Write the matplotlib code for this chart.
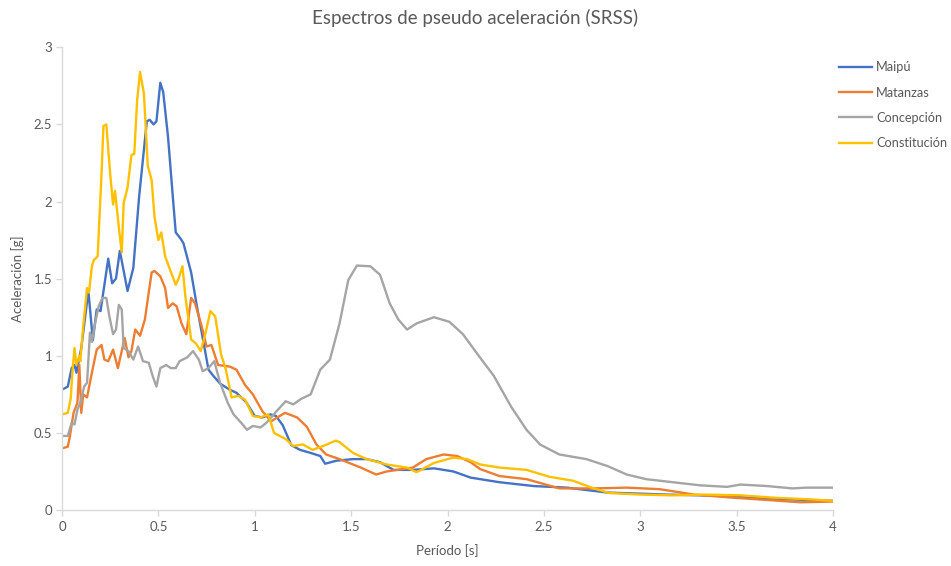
import matplotlib
matplotlib.use("Agg")
import matplotlib.pyplot as plt
from matplotlib.ticker import FuncFormatter

plt.rcParams['font.family'] = ['Lato', 'DejaVu Sans']

TITLE = 'Espectros de pseudo aceleración (SRSS)'

# Maipú
t_maipu = [0, 0.03, 0.05, 0.065, 0.075, 0.1, 0.137, 0.16, 0.18, 0.2, 0.24, 0.26, 0.28, 0.30,
           0.32, 0.34, 0.37, 0.40, 0.44, 0.455, 0.475, 0.49, 0.51, 0.525, 0.55, 0.575, 0.59,
           0.615, 0.63, 0.67, 0.70, 0.725, 0.76, 0.785, 0.82, 0.87, 0.905, 0.955, 1.0, 1.04,
           1.08, 1.11, 1.145, 1.19, 1.235, 1.29, 1.34, 1.365, 1.425, 1.51, 1.58, 1.65, 1.72,
           1.82, 1.93, 2.03, 2.12, 2.17, 2.27, 2.45, 2.62, 2.83, 3.14, 3.48, 3.74, 4.0]
a_maipu = [0.78, 0.80, 0.92, 0.94, 0.89, 1.05, 1.42, 1.10, 1.30, 1.29, 1.63, 1.47, 1.50, 1.68,
           1.55, 1.42, 1.57, 2.03, 2.52, 2.53, 2.50, 2.52, 2.77, 2.71, 2.42, 2.03, 1.80,
           1.76, 1.73, 1.54, 1.32, 1.15, 0.91, 0.87, 0.82, 0.78, 0.76, 0.70, 0.61, 0.60,
           0.62, 0.61, 0.55, 0.42, 0.39, 0.37, 0.35, 0.30, 0.32, 0.33, 0.33, 0.31, 0.26,
           0.26, 0.27, 0.25, 0.21, 0.20, 0.18, 0.155, 0.145, 0.113, 0.10, 0.09, 0.07, 0.06]

# Matanzas
t_matanzas = [0, 0.03, 0.04, 0.06, 0.08, 0.09, 0.10, 0.11, 0.13, 0.155, 0.18, 0.205, 0.22,
              0.24, 0.265, 0.29, 0.325, 0.345, 0.36, 0.38, 0.405, 0.43, 0.465, 0.48, 0.51,
              0.535, 0.55, 0.575, 0.595, 0.62, 0.645, 0.67, 0.69, 0.725, 0.75, 0.775, 0.81,
              0.87, 0.905, 0.95, 0.99, 1.04, 1.085, 1.13, 1.157, 1.22, 1.27, 1.32, 1.37,
              1.44, 1.55, 1.63, 1.685, 1.82, 1.89, 1.98, 2.05, 2.12, 2.17, 2.27, 2.41, 2.58,
              2.76, 2.93, 3.10, 3.28, 3.48, 3.66, 3.83, 4.0]
a_matanzas = [0.40, 0.41, 0.47, 0.63, 0.695, 0.94, 0.63, 0.75, 0.73, 0.89, 1.04, 1.07, 0.975,
              0.965, 1.04, 0.92, 1.115, 0.99, 1.03, 1.17, 1.13, 1.235, 1.54, 1.55, 1.515,
              1.44, 1.31, 1.34, 1.32, 1.21, 1.14, 1.375, 1.34, 1.19, 1.06, 1.07, 0.94,
              0.93, 0.91, 0.81, 0.75, 0.64, 0.575, 0.61, 0.63, 0.60, 0.54, 0.425, 0.36,
              0.33, 0.275, 0.23, 0.25, 0.275, 0.33, 0.36, 0.35, 0.31, 0.265, 0.22, 0.20, 0.14,
              0.14, 0.145, 0.135, 0.10, 0.08, 0.065, 0.05, 0.055]

# Concepción
t_concepcion = [0, 0.03, 0.05, 0.065, 0.08, 0.095, 0.115, 0.13, 0.145, 0.155, 0.17, 0.19,
                0.21, 0.23, 0.245, 0.265, 0.28, 0.295, 0.31, 0.32, 0.345, 0.37, 0.395, 0.42,
                0.45, 0.47, 0.49, 0.51, 0.54, 0.565, 0.59, 0.61, 0.65, 0.68, 0.71, 0.73,
                0.76, 0.79, 0.82, 0.86, 0.89, 0.93, 0.96, 0.99, 1.03, 1.06, 1.12, 1.16, 1.2,
                1.24, 1.29, 1.34, 1.39, 1.44, 1.485, 1.53, 1.60, 1.65, 1.70, 1.745, 1.79,
                1.84, 1.93, 2.01, 2.08, 2.15, 2.24, 2.33, 2.41, 2.48, 2.58, 2.72, 2.83, 2.93,
                3.03, 3.17, 3.31, 3.45, 3.52, 3.66, 3.79, 3.86, 4.0]
a_concepcion = [0.48, 0.48, 0.565, 0.555, 0.65, 0.695, 0.80, 0.825, 1.15, 1.09, 1.20, 1.32,
                1.375, 1.375, 1.26, 1.14, 1.17, 1.33, 1.30, 1.05, 1.03, 0.975, 1.06, 0.965,
                0.955, 0.87, 0.80, 0.92, 0.94, 0.92, 0.92, 0.965, 0.99, 1.03, 0.975, 0.90,
                0.92, 0.965, 0.825, 0.695, 0.62, 0.565, 0.52, 0.545, 0.535, 0.565, 0.65,
                0.705, 0.685, 0.72, 0.75, 0.91, 0.975, 1.21, 1.49, 1.585, 1.58, 1.525, 1.34,
                1.235, 1.17, 1.21, 1.25, 1.22, 1.14, 1.02, 0.87, 0.67, 0.52, 0.425, 0.36,
                0.33, 0.285, 0.23, 0.20, 0.18, 0.16, 0.15, 0.165, 0.155, 0.14, 0.145, 0.145]

# Constitución
t_constitucion = [0, 0.03, 0.045, 0.055, 0.065, 0.075, 0.09, 0.095, 0.11, 0.13, 0.14, 0.155,
                  0.165, 0.185, 0.205, 0.215, 0.23, 0.25, 0.265, 0.275, 0.295, 0.31, 0.32,
                  0.34, 0.36, 0.375, 0.39, 0.405, 0.425, 0.445, 0.465, 0.48, 0.50, 0.515,
                  0.535, 0.56, 0.59, 0.605, 0.625, 0.64, 0.67, 0.695, 0.72, 0.745, 0.77,
                  0.795, 0.825, 0.85, 0.88, 0.915, 0.95, 0.99, 1.03, 1.07, 1.10, 1.13, 1.16,
                  1.20, 1.25, 1.30, 1.355, 1.42, 1.44, 1.51, 1.58, 1.685, 1.79, 1.84, 1.93,
                  2.03, 2.10, 2.17, 2.27, 2.41, 2.53, 2.65, 2.76, 2.84, 3.0, 3.17, 3.34, 3.52,
                  3.69, 3.86, 4.0]
a_constitucion = [0.62, 0.63, 0.72, 0.91, 1.05, 0.94, 1.0, 0.965, 1.19, 1.44, 1.41, 1.58,
                  1.62, 1.645, 2.18, 2.49, 2.50, 2.18, 1.98, 2.07, 1.83, 1.67, 1.99,
                  2.09, 2.30, 2.31, 2.66, 2.84, 2.70, 2.23, 2.14, 1.90, 1.75, 1.80,
                  1.645, 1.56, 1.46, 1.50, 1.58, 1.385, 1.105, 1.08, 1.03, 1.15, 1.29,
                  1.255, 1.01, 0.91, 0.73, 0.74, 0.715, 0.61, 0.60, 0.62, 0.50, 0.48, 0.46,
                  0.415, 0.425, 0.39, 0.415, 0.45, 0.44, 0.37, 0.33, 0.295, 0.275, 0.245, 0.305,
                  0.34, 0.33, 0.295, 0.275, 0.26, 0.215, 0.19, 0.14, 0.11, 0.10, 0.095, 0.10, 0.095,
                  0.08, 0.07, 0.06]

series = [
    ('Maipú', t_maipu, a_maipu, '#4472C4'),
    ('Matanzas', t_matanzas, a_matanzas, '#ED7D31'),
    ('Concepción', t_concepcion, a_concepcion, '#A5A5A5'),
    ('Constitución', t_constitucion, a_constitucion, '#FFC000'),
]

TEXT = '#595959'
AXIS = '#D9D9D9'

fig = plt.figure(figsize=(9.51, 5.66), dpi=100)
ax = fig.add_axes([62 / 951, 1 - 510 / 566, (833 - 62) / 951, (510 - 47.3) / 566])

for name, t, a, color in series:
    ax.plot(t, a, color=color, lw=1.7, label=name, solid_joinstyle='round')

ax.set_xlim(0, 4)
ax.set_ylim(0, 3)
ax.set_xticks([0, 0.5, 1, 1.5, 2, 2.5, 3, 3.5, 4])
ax.set_yticks([0, 0.5, 1, 1.5, 2, 2.5, 3])
fmt = FuncFormatter(lambda v, p: ('%g' % v))
ax.xaxis.set_major_formatter(fmt)
ax.yaxis.set_major_formatter(fmt)

for side in ['top', 'right']:
    ax.spines[side].set_visible(False)
for side in ['left', 'bottom']:
    ax.spines[side].set_color(AXIS)
    ax.spines[side].set_linewidth(1.0)
ax.tick_params(axis='both', colors=AXIS, labelcolor=TEXT, labelsize=9.5, length=4, width=1)
ax.tick_params(axis='x', pad=4)
ax.tick_params(axis='y', pad=3)

ax.set_xlabel('Período [s]', color=TEXT, fontsize=9.5, labelpad=8)
ax.set_ylabel('Aceleración [g]', color=TEXT, fontsize=9.5, labelpad=7)
fig.text(0.5, 1 - 18 / 566, TITLE, ha='center', va='center', color=TEXT, fontsize=13.5)

leg = fig.legend(loc='upper left', bbox_to_anchor=(834 / 951, 1 - 56 / 566),
                 frameon=False, fontsize=9.2, handlelength=2.6, handletextpad=0.3,
                 labelspacing=1.05, borderaxespad=0)
for txt in leg.get_texts():
    txt.set_color(TEXT)

fig.savefig('out.png', dpi=100)
